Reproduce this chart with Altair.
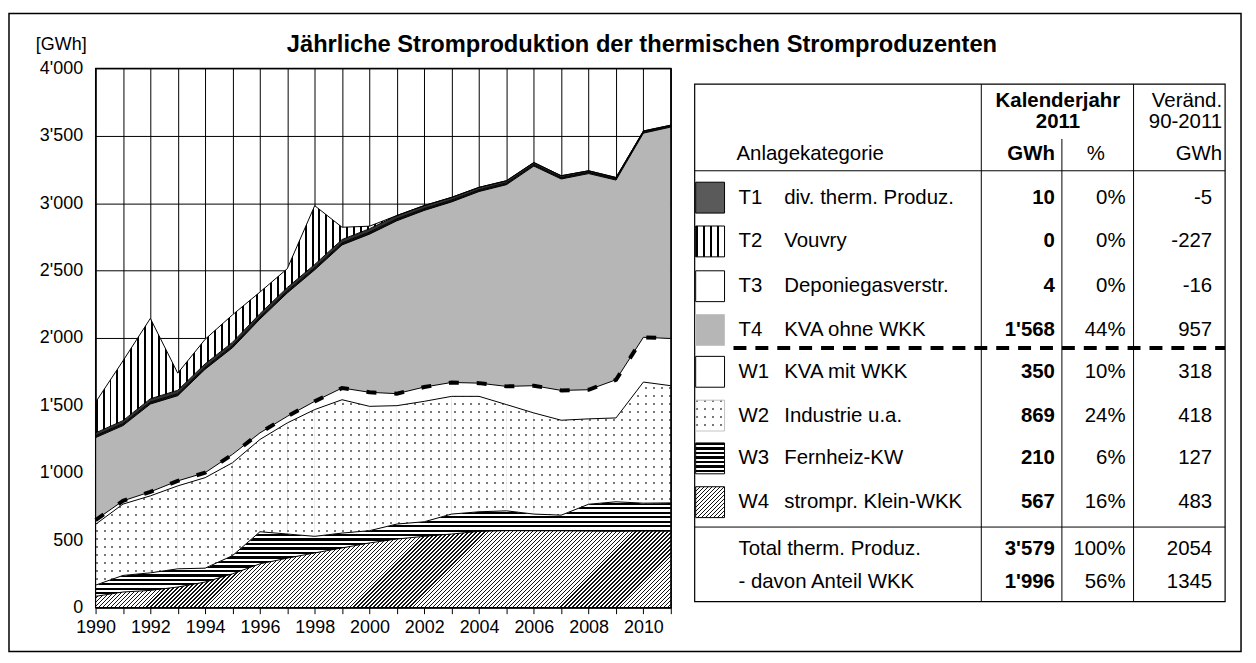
import altair as alt
import pandas as pd
import numpy as np

# ---------------- data ----------------
years = list(range(1990, 2012))

# band values (GWh) per category, 1990..2011
w4_klein_wkk = [84, 116, 128, 153, 190, 251, 325, 367, 406, 443, 480, 509, 529, 546, 566, 571, 570, 570, 568, 567, 568, 567]
w3_fernheiz = [83, 123, 130, 135, 103, 135, 238, 179, 123, 110, 91, 111, 108, 148, 145, 147, 124, 116, 199, 218, 207, 210]
w2_industrie = [451, 529, 571, 615, 671, 689, 684, 824, 940, 989, 922, 878, 893, 873, 856, 788, 750, 704, 633, 622, 898, 869]
w1_kva_mit = [32, 24, 30, 37, 37, 62, 49, 49, 61, 87, 104, 89, 106, 103, 98, 135, 202, 221, 216, 283, 332, 350]
t4_kva_ohne = [611, 558, 651, 632, 767, 791, 844, 915, 975, 1061, 1173, 1282, 1310, 1339, 1421, 1496, 1629, 1568, 1603, 1481, 1514, 1568]
t1_div = [15, 15, 15, 15, 15, 15, 15, 15, 15, 15, 15, 15, 14, 14, 13, 13, 12, 12, 11, 11, 10, 10]
t3_deponie = [20, 22, 24, 25, 25, 25, 25, 25, 25, 25, 25, 24, 22, 20, 18, 16, 14, 12, 10, 8, 6, 4]
t2_vouvry = [227, 443, 596, 127, 182, 204, 160, 140, 436, 91, 19, 0, 0, 0, 0, 0, 0, 0, 0, 0, 0, 0]

stack_order = ["W4", "W3", "W2", "W1", "T4", "T1", "T3", "T2"]
bands = {"W4": w4_klein_wkk, "W3": w3_fernheiz, "W2": w2_industrie, "W1": w1_kva_mit,
         "T4": t4_kva_ohne, "T1": t1_div, "T3": t3_deponie, "T2": t2_vouvry}

y_ticks = [0, 500, 1000, 1500, 2000, 2500, 3000, 3500, 4000]

tab_codes = ["T1", "T2", "T3", "T4", "W1", "W2", "W3", "W4"]
tab_names = ["div. therm. Produz.", "Vouvry", "Deponiegasverstr.", "KVA ohne WKK",
             "KVA mit WKK", "Industrie u.a.", "Fernheiz-KW", "strompr. Klein-WKK"]
tab_gwh = [10, 0, 4, 1568, 350, 869, 210, 567]
tab_pct = [0, 0, 0, 44, 10, 24, 6, 16]
tab_chg = [-5, -227, -16, 957, 318, 418, 127, 483]
sum_labels = ["Total therm. Produz.", "- davon Anteil WKK"]
sum_gwh = [3579, 1996]
sum_pct = [100, 56]
sum_chg = [2054, 1345]

title_text = "Jährliche Stromproduktion der thermischen Stromproduzenten"
unit_text = "[GWh]"

# ---------------- layout / style ----------------
FONT = "Liberation Sans"
PW, PH = 578, 542
YMAX = 4000
TR = "rgba(255,255,255,0)"
AX = 18      # axis label size
TF = 20.5    # table font size
NY = len(years)


def ypx(v):
    return PH * (1 - v / YMAX)


def xpx(i):
    return PW * i / (NY - 1)


def _stops(L, period, dark, cd, cl, shift=0.0):
    segs = []
    p = -(shift % period)
    while p < L - 1e-9:
        for s, e, col in ((p, p + dark, cd), (p + dark, p + period, cl)):
            s2, e2 = max(s, 0.0), min(e, L)
            if e2 > s2 + 1e-9:
                segs.append((s2, e2, col))
        p += period
    st = []
    for s, e, col in segs:
        st.append({"offset": round(s / L, 5), "color": col})
        st.append({"offset": round(e / L, 5), "color": col})
    return st


def h_grad(bw, bh, X0, Y0, period, dark, cd, cl):
    return {"gradient": "linear", "x1": 0, "y1": 0, "x2": 0, "y2": 1,
            "stops": _stops(bh, period, dark, cd, cl, Y0)}


def v_grad(bw, bh, X0, Y0, period, dark, cd, cl):
    return {"gradient": "linear", "x1": 0, "y1": 0, "x2": 1, "y2": 0,
            "stops": _stops(bw, period, dark, cd, cl, X0)}


def d_grad(bw, bh, X0, Y0, period, dark, cd, cl):
    L = bw + bh
    a = L * bw / (bw * bw + bh * bh)
    return {"gradient": "linear", "x1": 0, "y1": 0, "x2": round(a, 5), "y2": round(a * bh / bw, 5),
            "stops": _stops(L, period, dark, cd, cl, X0 + Y0)}


def fills_for(key, bw, bh, X0=0.0, Y0=0.0, chart=True):
    if key == "W4":
        return [d_grad(bw, bh, X0, Y0, 4.0, 1.3, "#111111", "#ffffff")]
    if key == "W3":
        return [h_grad(bw, bh, X0, Y0, 4.5, 2.2, "#000000", "#ffffff")]
    if key == "T2":
        return [v_grad(bw, bh, X0, Y0, 7.0, 2.0, "#000000", "#ffffff")]
    if key == "W2":
        return ["#777777", h_grad(bw, bh, X0, Y0, 8, 2, TR, "#ffffff"),
                v_grad(bw, bh, X0, Y0, 8, 2, TR, "#ffffff")]
    if key == "T4":
        return ["#b6b6b6"]
    if key == "T1":
        return ["#111111" if chart else "#5a5a5a"]
    if key == "T3":
        return ["#333333" if chart else "#ffffff"]
    return ["#ffffff"]


patterned = {"W4", "W3", "T2", "W2"}
swatch_stroke = {"T4": "#c4c4c4", "W2": "#c4c4c4"}

xscale = alt.Scale(domain=[1990, 2011], nice=False, zero=False)
yscale = alt.Scale(domain=[0, YMAX], nice=False, zero=True)

xaxis = alt.Axis(values=years, tickCount=40,
                 labelExpr="datum.value % 2 == 0 ? '' + datum.value : ''",
                 grid=True, gridColor="black", gridWidth=1, gridOpacity=1, ticks=True, tickSize=6,
                 tickColor="black", domain=False, labelFontSize=AX, labelFont=FONT, labelColor="black",
                 labelPadding=5, title=None, labelOverlap=False, labelFlush=False)
yaxis = alt.Axis(values=y_ticks, tickCount=20, labelExpr="replace(format(datum.value, ','), ',', \"'\")",
                 grid=True, gridColor="black", gridWidth=1, gridOpacity=1, ticks=False, domain=False,
                 labelFontSize=AX, labelFont=FONT, labelColor="black", labelPadding=13, title=None)

one = pd.DataFrame({"k": [0]})
layers = []

# ---------------- stacked areas ----------------
cum = np.zeros(NY)
stacks = {}
for s in stack_order:
    lo = cum.copy()
    hi = cum + np.array(bands[s], dtype=float)
    stacks[s] = (lo, hi)
    cum = hi

# invisible carrier of the axes
df0 = pd.DataFrame({"year": years, "hi": stacks["W4"][1]})
layers.append(alt.Chart(df0).mark_line(opacity=0).encode(
    x=alt.X("year:Q", scale=xscale, axis=xaxis), y=alt.Y("hi:Q", scale=yscale, axis=yaxis)))

for s in stack_order:
    lo, hi = stacks[s]
    vals = np.array(bands[s], dtype=float)
    if s in patterned:
        # overlapping two-year windows, pattern phase locked to the plot
        for k in range(NY - 2):
            idx = [k, k + 1, k + 2]
            if vals[idx].max() <= 0:
                continue
            sub = pd.DataFrame({"year": [years[i] for i in idx], "lo": lo[idx], "hi": hi[idx]})
            X0 = xpx(k)
            bw = xpx(k + 2) - X0
            top = min(ypx(hi[i]) for i in idx)
            bot = max(ypx(lo[i]) for i in idx)
            bh = max(bot - top, 0.5)
            for f in fills_for(s, bw, bh, X0, top):
                layers.append(alt.Chart(sub).mark_area(fill=f, opacity=1, strokeWidth=0).encode(
                    x=alt.X("year:Q", scale=xscale), y=alt.Y("hi:Q", scale=yscale), y2="lo:Q"))
    else:
        df = pd.DataFrame({"year": years, "lo": lo, "hi": hi})
        for f in fills_for(s, PW, 1.0):
            layers.append(alt.Chart(df).mark_area(fill=f, opacity=1, strokeWidth=0).encode(
                x=alt.X("year:Q", scale=xscale), y=alt.Y("hi:Q", scale=yscale), y2="lo:Q"))

for s in stack_order:
    lo, hi = stacks[s]
    df = pd.DataFrame({"year": years, "hi": hi})
    layers.append(alt.Chart(df).mark_line(color="black", strokeWidth=1).encode(
        x=alt.X("year:Q", scale=xscale), y=alt.Y("hi:Q", scale=yscale)))

# WKK boundary (dashed)
df_wkk = pd.DataFrame({"year": years, "hi": stacks["W1"][1]})
layers.append(alt.Chart(df_wkk).mark_line(color="black", strokeWidth=4, strokeDash=[10, 18]).encode(
    x=alt.X("year:Q", scale=xscale), y=alt.Y("hi:Q", scale=yscale)))


# ---------------- helpers for annotation ----------------
def text_at(txt, x, y, align="left", bold=False, size=TF):
    return alt.Chart(one).mark_text(text=txt, align=align, baseline="middle", font=FONT,
                                    fontSize=size, fontWeight="bold" if bold else "normal",
                                    color="black").encode(x=alt.value(x), y=alt.value(y))


def rule_at(x1, y1, x2, y2, w=1.0, dash=None):
    kw = {"color": "black", "strokeWidth": w}
    if dash:
        kw["strokeDash"] = dash
    return alt.Chart(one).mark_rule(**kw).encode(
        x=alt.value(x1), y=alt.value(y1), x2=alt.value(x2), y2=alt.value(y2))


def rect_at(x1, y1, x2, y2, fill="white", stroke="black", w=1.0, fill_opacity=1.0):
    return alt.Chart(one).mark_rect(fill=fill, fillOpacity=fill_opacity, stroke=stroke,
                                    strokeWidth=w).encode(
        x=alt.value(x1), y=alt.value(y1), x2=alt.value(x2), y2=alt.value(y2))


# outer frame (no fill, so the axes stay visible)
layers.append(rect_at(-87, -55, 1151, 586, fill="white", fill_opacity=0, stroke="black", w=1.5))

# plot border
layers.append(rect_at(0, 0, PW, PH, fill="white", fill_opacity=0, stroke="black", w=1.2))

# title & unit
layers.append(text_at(title_text, 549, -23, align="center", bold=True, size=23.8))
layers.append(text_at(unit_text, -60, -23, align="left", size=AX))

# ---------------- table ----------------
TB_L, TB_T, TB_R, TB_B = 602, 16, 1135, 536
layers.append(rect_at(TB_L, TB_T, TB_R, TB_B, fill="white", fill_opacity=0, stroke="black", w=1.2))
layers.append(rule_at(890, TB_T, 890, TB_B))
layers.append(rule_at(971, 71, 971, TB_B))
layers.append(rule_at(1043, TB_T, 1043, TB_B))
layers.append(rule_at(TB_L, 103, TB_R, 103))
layers.append(rule_at(TB_L, 461, TB_R, 461))
layers.append(rule_at(641, 281, TB_R, 281, w=4, dash=[13, 9]))

layers.append(text_at("Kalenderjahr", 967, 33, align="center", bold=True))
layers.append(text_at("2011", 967, 54, align="center", bold=True))
layers.append(text_at("Veränd.", 1132, 33, align="right"))
layers.append(text_at("90-2011", 1132, 54, align="right"))
layers.append(text_at("Anlagekategorie", 644, 86))
layers.append(text_at("GWh", 964, 86, align="right", bold=True))
layers.append(text_at("%", 1005, 86, align="center"))
layers.append(text_at("GWh", 1132, 86, align="right"))

row_y = [130, 174, 219, 263, 305, 349, 392, 436]
sum_y = [483, 516]


def fmt(v):
    return f"{v:,}".replace(",", "'")


tdf = pd.DataFrame({
    "code": tab_codes, "name": tab_names,
    "gwh": [fmt(v) for v in tab_gwh],
    "pct": [f"{v}%" for v in tab_pct],
    "chg": [str(v) for v in tab_chg],
    "ty": row_y,
})
sdf = pd.DataFrame({
    "code": sum_labels, "name": ["", ""],
    "gwh": [fmt(v) for v in sum_gwh],
    "pct": [f"{v}%" for v in sum_pct],
    "chg": [str(v) for v in sum_chg],
    "ty": sum_y,
})


def col_text(df, field, x, align, bold=False):
    return alt.Chart(df).mark_text(align=align, baseline="middle", font=FONT, fontSize=TF,
                                   fontWeight="bold" if bold else "normal", color="black").encode(
        text=f"{field}:N", x=alt.value(x), y=alt.Y("ty:Q", scale=None))


for df, code_x in ((tdf, 646), (sdf, 646)):
    layers.append(col_text(df, "code", code_x, "left"))
    layers.append(col_text(df, "name", 692, "left"))
    layers.append(col_text(df, "gwh", 964, "right", bold=True))
    layers.append(col_text(df, "pct", 1035, "right"))
    layers.append(col_text(df, "chg", 1122, "right"))

# legend swatches
for code, ry in zip(tab_codes, row_y):
    sx1, sx2, sy1, sy2 = 603, 632, ry - 15.5, ry + 15.5
    fl = fills_for(code, sx2 - sx1, sy2 - sy1, chart=False)
    for f in fl:
        layers.append(alt.Chart(one).mark_rect(fill=f, strokeWidth=0).encode(
            x=alt.value(sx1), y=alt.value(sy1), x2=alt.value(sx2), y2=alt.value(sy2)))
    layers.append(rect_at(sx1, sy1, sx2, sy2, fill="white", fill_opacity=0,
                          stroke=swatch_stroke.get(code, "black"), w=1))

chart = alt.layer(*layers).properties(
    width=PW, height=PH,
    autosize=alt.AutoSizeParams(type="none"),
    padding={"left": 88, "top": 59, "right": 580, "bottom": 44},
).configure_view(stroke="black", strokeWidth=1.2)

chart.save("out.html", embed_options={"renderer": "svg", "actions": False})
